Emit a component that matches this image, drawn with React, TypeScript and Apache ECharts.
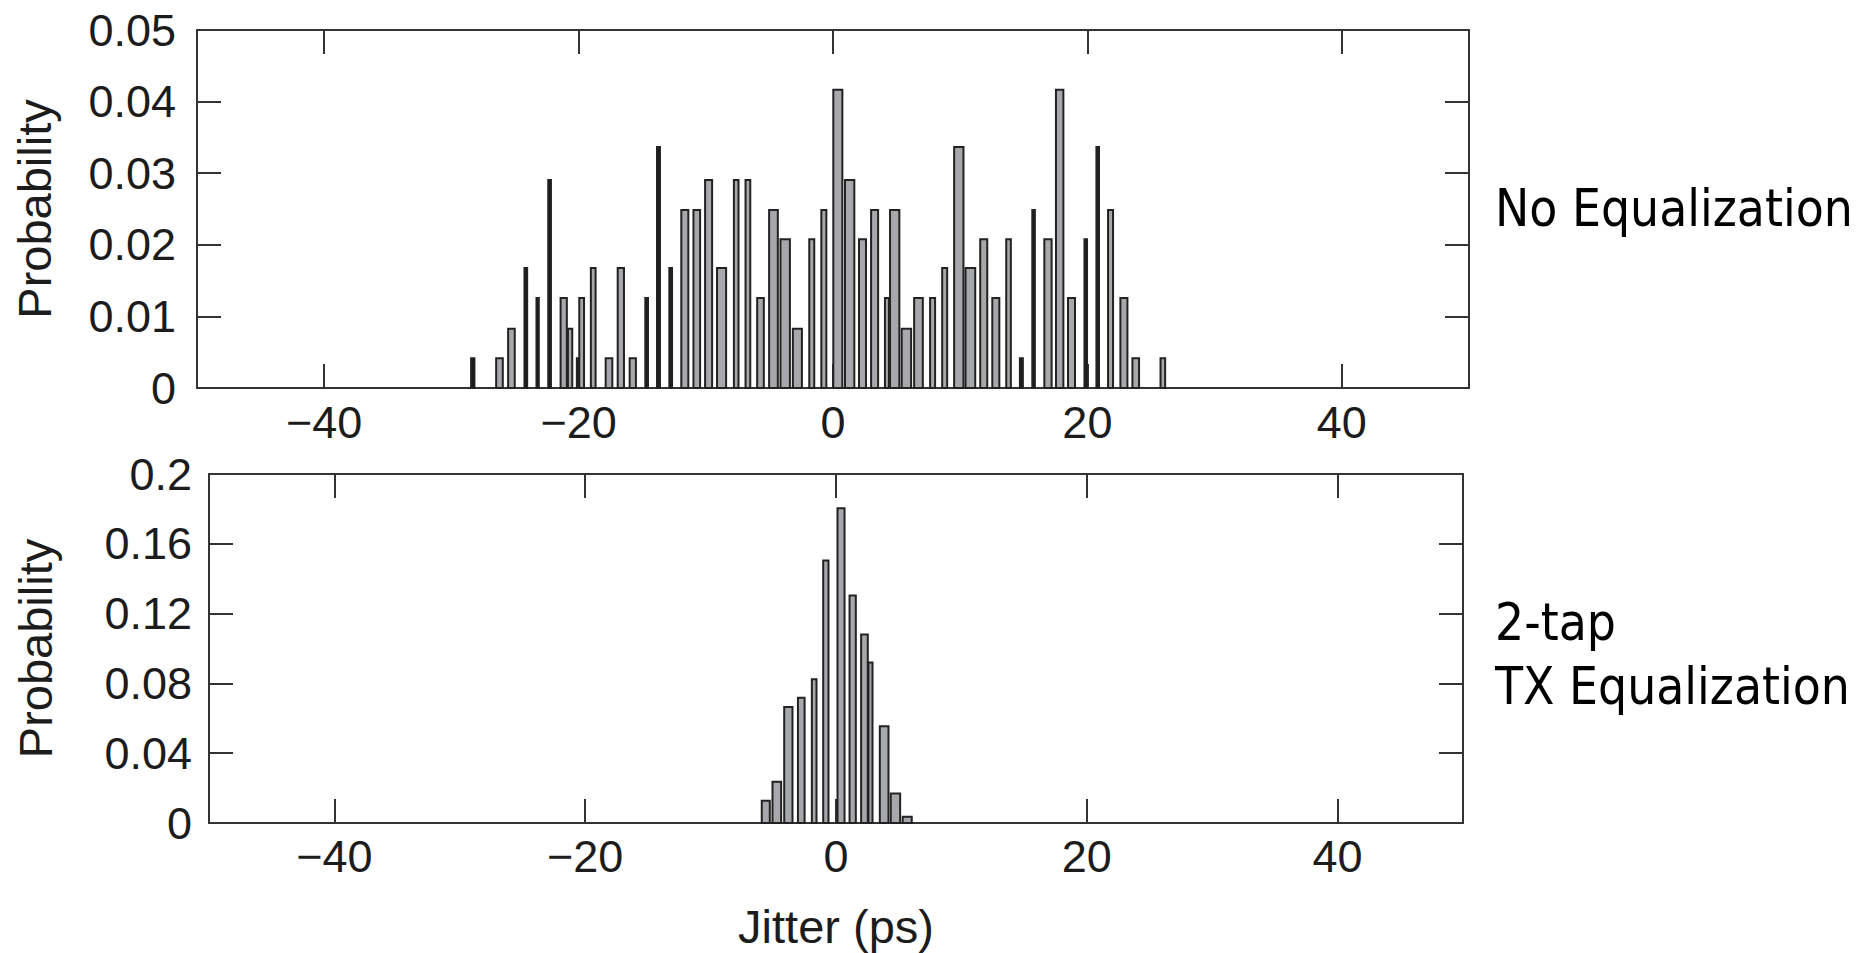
import React, { useEffect, useRef } from "react";
import * as echarts from "echarts";

// ---- Data ----
const X_TICKS = [-40, -20, 0, 20, 40];

// No Equalization histogram: bar centres (ps), probability, bin width (ps)
const topJitter = [
  -28.32, -26.22, -25.28, -24.15, -23.22, -22.28, -21.17, -20.67, -20.06, -19.76,
  -18.85, -17.61, -16.68, -15.74, -14.65, -13.72, -12.76, -11.65, -10.71, -9.78,
  -8.76, -7.61, -6.69, -5.7, -4.68, -3.76, -2.8, -1.67, -0.72, 0.38,
  1.31, 2.32, 3.27, 4.24, 4.85, 5.77, 6.72, 7.83, 8.78, 9.89,
  10.8, 11.85, 12.8, 13.8, 14.81, 15.77, 16.9, 17.82, 18.75, 19.87,
  20.81, 21.82, 22.87, 23.8, 25.93,
];
const topProb = [
  0.0043, 0.0043, 0.0084, 0.0169, 0.0127, 0.0292, 0.0127, 0.0084, 0.0043, 0.0127,
  0.0169, 0.0043, 0.0169, 0.0043, 0.0127, 0.0338, 0.0169, 0.025, 0.025, 0.0292,
  0.0169, 0.0292, 0.0292, 0.0127, 0.025, 0.0209, 0.0084, 0.0209, 0.025, 0.0418,
  0.0292, 0.0209, 0.025, 0.0127, 0.025, 0.0084, 0.0127, 0.0127, 0.0169, 0.0338,
  0.0169, 0.0209, 0.0127, 0.0209, 0.0043, 0.025, 0.0209, 0.0418, 0.0127, 0.0209,
  0.0338, 0.025, 0.0127, 0.0043, 0.0043,
];
const topWidth = [
  0.42, 0.68, 0.68, 0.37, 0.34, 0.37, 0.65, 0.5, 0.31, 0.53,
  0.53, 0.68, 0.65, 0.65, 0.37, 0.39, 0.37, 0.71, 0.68, 0.71,
  0.87, 0.52, 0.53, 0.68, 0.84, 0.9, 0.87, 0.55, 0.55, 0.87,
  0.89, 0.71, 0.71, 0.47, 0.89, 0.9, 0.84, 0.55, 0.55, 0.89,
  0.92, 0.71, 0.71, 0.52, 0.39, 0.36, 0.73, 0.74, 0.71, 0.36,
  0.36, 0.55, 0.71, 0.68, 0.52,
];

// 2-tap TX Equalization histogram
const bottomJitter = [-5.6, -4.72, -3.8, -2.77, -1.74, -0.81, 0.4, 1.33, 2.27, 2.75, 3.84, 4.74, 5.68];
const bottomProb = [0.0133, 0.0242, 0.067, 0.0723, 0.083, 0.151, 0.181, 0.131, 0.1086, 0.0926, 0.056, 0.0175, 0.0042];
const bottomWidth = [0.8, 0.85, 0.82, 0.69, 0.53, 0.58, 0.72, 0.66, 0.69, 0.48, 0.85, 0.91, 0.88];

const topLabel = "No Equalization";
const bottomLabel = "2-tap\nTX Equalization";

// ---- Styles ----
const AXIS_COLOR = "#333333";
const TEXT_COLOR = "#1c1c1c";
const FONT = "'Liberation Sans', Arial, Helvetica, sans-serif";
const SIDE_FONT = "'DejaVu Sans Condensed', 'DejaVu Sans', sans-serif";
const BAR_FILL = "#a6a8ab";
const BAR_STROKE = "#222222";

const fmtX = (v: number) => (v < 0 ? "\u2212" + Math.abs(v) : String(v));
const fmtY = (v: number) => (v === 0 ? "0" : String(parseFloat(v.toFixed(3))));

function renderBar(params: any, api: any) {
  const x = api.value(0);
  const y = api.value(1);
  const w = api.value(2);
  const p0 = api.coord([x - w / 2, y]);
  const p1 = api.coord([x + w / 2, 0]);
  const width = p1[0] - p0[0];
  const height = p1[1] - p0[1];
  const thin = width < 5.6;
  return {
    type: "rect",
    shape: { x: p0[0] + 1, y: p0[1] + 1, width: Math.max(width - 2, 0.5), height: height - 1 },
    style: { fill: thin ? "#1a1a1a" : BAR_FILL, stroke: BAR_STROKE, lineWidth: 2 },
  };
}

function xAxisPair(gridIndex: number, labelMargin: number, name?: string) {
  const line = { show: true, onZero: false, lineStyle: { color: AXIS_COLOR, width: 2 } };
  const tick = { show: true, inside: true, length: 24, customValues: X_TICKS, lineStyle: { color: AXIS_COLOR, width: 2 } };
  return [
    {
      type: "value",
      gridIndex,
      position: "bottom",
      min: -50,
      max: 50,
      axisLine: line,
      axisTick: tick,
      splitLine: { show: false },
      axisLabel: {
        show: true,
        customValues: X_TICKS,
        formatter: fmtX,
        margin: labelMargin,
        fontSize: 45,
        fontFamily: FONT,
        color: TEXT_COLOR,
      },
      name: name || "",
      nameLocation: "middle",
      nameGap: 80,
      nameTextStyle: { fontSize: 47, fontFamily: FONT, color: TEXT_COLOR },
    },
    {
      type: "value",
      gridIndex,
      position: "top",
      min: -50,
      max: 50,
      axisLine: line,
      axisTick: tick,
      splitLine: { show: false },
      axisLabel: { show: false, customValues: X_TICKS },
    },
  ];
}

function yAxisPair(gridIndex: number, max: number, interval: number, labelMargin: number, nameGap: number) {
  const line = { show: true, onZero: false, lineStyle: { color: AXIS_COLOR, width: 2 } };
  const tick = { show: true, inside: true, length: 24, lineStyle: { color: AXIS_COLOR, width: 2 } };
  return [
    {
      type: "value",
      gridIndex,
      position: "left",
      min: 0,
      max,
      interval,
      axisLine: line,
      axisTick: tick,
      splitLine: { show: false },
      axisLabel: { formatter: fmtY, margin: labelMargin, fontSize: 45, fontFamily: FONT, color: TEXT_COLOR },
      name: "Probability",
      nameLocation: "middle",
      nameRotate: 90,
      nameGap,
      nameTextStyle: { fontSize: 47, fontFamily: FONT, color: TEXT_COLOR },
    },
    {
      type: "value",
      gridIndex,
      position: "right",
      min: 0,
      max,
      interval,
      axisLine: line,
      axisTick: tick,
      splitLine: { show: false },
      axisLabel: { show: false },
    },
  ];
}

export default function App() {
  const ref = useRef<HTMLDivElement>(null);

  useEffect(() => {
    if (!ref.current) return;
    const chart = echarts.init(ref.current, null, { renderer: "svg" });

    const topData = topJitter.map((x, i) => [x, topProb[i], topWidth[i]]);
    const bottomData = bottomJitter.map((x, i) => [x, bottomProb[i], bottomWidth[i]]);

    const option: any = {
      animation: false,
      backgroundColor: "#ffffff",
      grid: [
        { left: 197, top: 30, width: 1272, height: 358 },
        { left: 209, top: 474, width: 1254, height: 349 },
      ],
      xAxis: [...xAxisPair(0, 12), ...xAxisPair(1, 11, "Jitter (ps)")],
      yAxis: [...yAxisPair(0, 0.05, 0.01, 21, 139), ...yAxisPair(1, 0.2, 0.04, 17, 150)],
      series: [
        {
          type: "custom",
          name: "No Equalization",
          xAxisIndex: 0,
          yAxisIndex: 0,
          renderItem: renderBar,
          encode: { x: 0, y: 1 },
          data: topData,
          z: 3,
        },
        {
          type: "custom",
          name: "2-tap TX Equalization",
          xAxisIndex: 2,
          yAxisIndex: 2,
          renderItem: renderBar,
          encode: { x: 0, y: 1 },
          data: bottomData,
          z: 3,
        },
      ],
      graphic: [
        {
          type: "text",
          x: 1495,
          y: 208,
          style: {
            text: topLabel,
            fontSize: 51,
            fontFamily: SIDE_FONT,
            fill: "#000000",
            align: "left",
            verticalAlign: "middle",
          },
        },
        {
          type: "text",
          x: 1495,
          y: 654,
          style: {
            text: bottomLabel,
            fontSize: 51,
            lineHeight: 64,
            fontFamily: SIDE_FONT,
            fill: "#000000",
            align: "left",
            verticalAlign: "middle",
          },
        },
      ],
    };

    chart.setOption(option);
    return () => chart.dispose();
  }, []);

  return (
    <div
      ref={ref}
      style={{ position: "fixed", left: 0, top: 0, width: 1865, height: 953, background: "#ffffff" }}
    />
  );
}
